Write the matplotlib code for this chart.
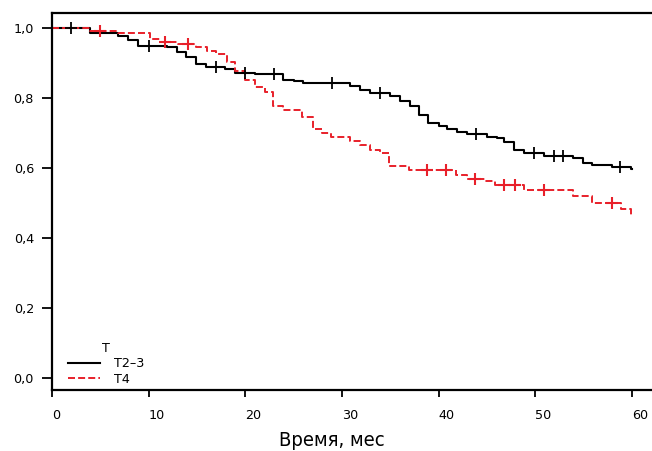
import numpy as np
import matplotlib.pyplot as plt
from matplotlib.lines import Line2D

# кривые выживаемости (Каплан-Мейер)
t_23 = [0, 3.9, 6.8, 7.9, 8.9, 11.9, 12.9, 13.9, 14.9, 15.9, 17.9, 18.9, 21.0, 23.9, 25.0, 26.0,
        30.8, 31.9, 32.9, 35.0, 36.0, 37.0, 38.0, 38.9, 40.0, 40.9, 41.9, 42.9, 45.0, 46.0, 46.8,
        47.8, 48.8, 50.9, 53.9, 54.9, 55.9, 57.9, 59.9, 60.0]
s_23 = [1.0, 0.985, 0.978, 0.966, 0.950, 0.945, 0.932, 0.918, 0.896, 0.888, 0.882, 0.872, 0.868, 0.853, 0.848, 0.844,
        0.834, 0.823, 0.814, 0.806, 0.791, 0.776, 0.752, 0.730, 0.720, 0.711, 0.704, 0.697, 0.690, 0.685, 0.675,
        0.653, 0.642, 0.634, 0.628, 0.615, 0.609, 0.602, 0.596, 0.596]
cens_23 = [2.0, 10.0, 17.0, 20.0, 23.0, 29.0, 33.9, 43.9, 49.9, 51.9, 52.9, 58.8]

t_4 = [0, 3.9, 6.8, 10.1, 11.2, 13.0, 14.9, 16.0, 17.0, 18.1, 18.9, 20.0, 21.0, 22.0, 22.9, 23.9,
       25.9, 27.0, 27.9, 28.9, 30.8, 31.9, 32.9, 33.9, 34.9, 36.9, 41.8, 42.9, 44.8, 45.8, 48.8,
       53.9, 55.9, 58.9, 59.9, 60.0]
s_4 = [1.0, 0.992, 0.985, 0.970, 0.961, 0.954, 0.945, 0.935, 0.926, 0.904, 0.876, 0.851, 0.832, 0.818, 0.777, 0.766,
       0.745, 0.711, 0.699, 0.690, 0.678, 0.666, 0.653, 0.642, 0.606, 0.594, 0.580, 0.569, 0.563, 0.553, 0.537,
       0.520, 0.499, 0.482, 0.466, 0.466]
cens_4 = [5.0, 11.7, 14.1, 38.8, 40.8, 43.8, 46.8, 47.9, 50.9, 57.9]

xticks = [0, 10, 20, 30, 40, 50, 60]
yticks = [0.0, 0.2, 0.4, 0.6, 0.8, 1.0]
ylabels = ['0,0', '0,2', '0,4', '0,6', '0,8', '1,0']

RED = '#e8202a'


def surv_at(t, times, vals):
    i = np.searchsorted(times, t, side='right') - 1
    return np.array(vals)[i]


plt.rcParams['font.family'] = ['DejaVu Sans']

fig = plt.figure(figsize=(6.52, 4.51), dpi=100)
ax = fig.add_axes([52/652, 61/451, 600/652, 377/451])

ax.step(t_23, s_23, where='post', color='black', lw=1.5)
ax.step(t_4, s_4, where='post', color=RED, lw=1.4, linestyle=(0, (3.6, 1.6)))

ax.plot(cens_23, surv_at(cens_23, t_23, s_23), '+', color='black', ms=9, mew=1.3)
ax.plot(cens_4, surv_at(cens_4, t_4, s_4), '+', color=RED, ms=9, mew=1.5)

ax.set_xlim(0, 62.07)
ax.set_ylim(-0.034, 1.043)
ax.set_xticks(xticks)
ax.set_xticklabels([str(x) for x in xticks], ha='left')
ax.set_yticks(yticks)
ax.set_yticklabels(ylabels)
ax.tick_params(axis='both', direction='out', labelsize=9.2, width=1.3)
ax.tick_params(axis='y', length=7, pad=6)
ax.tick_params(axis='x', length=5, pad=9)

ax.spines['right'].set_visible(False)
for s in ['left', 'top', 'bottom']:
    ax.spines[s].set_linewidth(1.6)

handles = [Line2D([], [], color='black', lw=1.5),
           Line2D([], [], color=RED, lw=1.4, linestyle=(0, (3.6, 1.6)))]
leg = ax.legend(handles, ['T2–3', 'T4'], title='T', loc='lower left',
                bbox_to_anchor=(6/600, -6/377), frameon=False, fontsize=9.2,
                title_fontsize=9.2, handlelength=2.5, handletextpad=1.1,
                labelspacing=0.2, borderpad=0.3)

# подпись оси X - узкий шрифт
fig.text(332/652, 0.5/451, 'Время, мес', ha='center', va='bottom', fontsize=14.5,
         family='DejaVu Sans', fontstretch='condensed')

fig.savefig('out.png', dpi=100)
